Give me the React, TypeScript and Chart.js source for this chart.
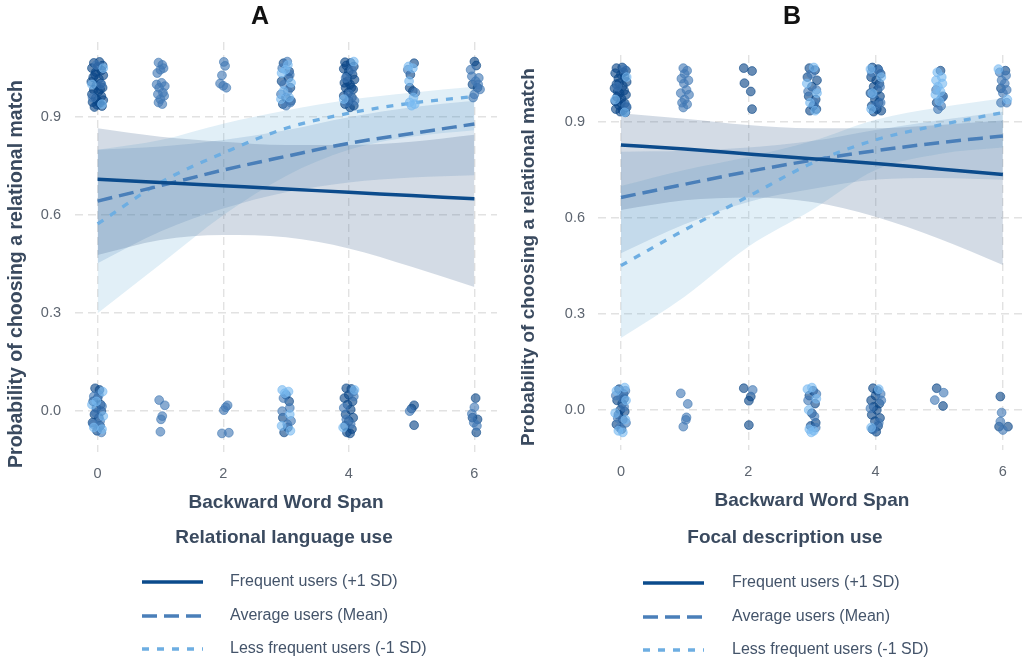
import React, { useEffect, useRef } from "react";
import { Chart, registerables } from "chart.js";

Chart.register(...registerables);

type Pt = [number, number];

// ---------- shared categories / labels ----------
const xGrid = [0, 1, 2, 3, 4, 5, 6];
const xTicks = [0, 2, 4, 6];
const yTicks = [0, 0.3, 0.6, 0.9];
const seriesNames = ["Frequent users (+1 SD)", "Average users (Mean)", "Less frequent users (-1 SD)"];
const xTitle = "Backward Word Span";
const yTitle = "Probability of choosing a relational match";

// ---------- panel A : Relational language use ----------
const A_freqFit = [0.71, 0.7, 0.69, 0.68, 0.67, 0.66, 0.65];
const A_freqLo = [0.478, 0.524, 0.539, 0.532, 0.498, 0.442, 0.38];
const A_freqHi = [0.866, 0.84, 0.825, 0.815, 0.815, 0.825, 0.846];
const A_avgFit = [0.643, 0.69, 0.738, 0.78, 0.82, 0.85, 0.879];
const A_avgLo = [0.453, 0.55, 0.62, 0.67, 0.7, 0.715, 0.722];
const A_avgHi = [0.8, 0.81, 0.83, 0.86, 0.9, 0.93, 0.95];
const A_lessFit = [0.573, 0.7, 0.79, 0.866, 0.912, 0.943, 0.963];
const A_lessLo = [0.3, 0.45, 0.6, 0.72, 0.8, 0.84, 0.86];
const A_lessHi = [0.8, 0.83, 0.88, 0.92, 0.953, 0.975, 0.993];

const A_ptsDark: Pt[] = [
  [-0.06, 1.066], [0.03, 1.069], [0.08, 1.058], [-0.09, 1.05], [0.0, 1.054], [0.06, 1.043], [-0.03, 1.038], [0.09, 1.028],
  [-0.07, 1.022], [0.02, 1.017], [-0.1, 1.008], [0.05, 1.003], [-0.02, 0.997], [0.08, 0.99], [-0.06, 0.984], [0.01, 0.977],
  [-0.09, 0.97], [0.06, 0.964], [-0.03, 0.958], [0.09, 0.952], [-0.08, 0.946], [0.03, 0.943], [-0.01, 0.938], [0.07, 0.934],
  [-0.05, 0.931], [0.04, 0.985], [-0.04, 1.03], [0.0, 0.95],
  [2.96, 1.065], [3.05, 1.04], [2.93, 1.01], [3.07, 0.99], [3.0, 0.96], [2.95, 0.94], [3.04, 1.02], [3.08, 0.95],
  [3.94, 1.068], [4.03, 1.066], [4.08, 1.055], [3.92, 1.048], [4.0, 1.04], [4.06, 1.03], [3.97, 1.025], [4.09, 1.015],
  [3.93, 1.005], [4.02, 1.0], [3.95, 0.99], [4.07, 0.985], [3.99, 0.975], [3.92, 0.965], [4.05, 0.96], [4.0, 0.95],
  [3.94, 0.94], [4.08, 0.935], [4.02, 0.93], [3.96, 1.058], [4.04, 0.99], [3.98, 1.01],
  [5.04, 1.065], [4.98, 1.03], [4.97, 0.99], [5.02, 0.98],
  [6.0, 1.07], [6.03, 1.058], [5.97, 1.0], [6.05, 0.99],
  [-0.04, 0.07], [0.03, 0.065], [0.0, 0.04], [-0.07, 0.03], [0.05, 0.02], [-0.02, 0.01], [0.06, 0.0], [-0.05, -0.01],
  [0.02, -0.02], [-0.08, -0.035], [0.04, -0.045], [-0.01, -0.06],
  [3.0, 0.05], [3.05, 0.03], [2.95, -0.02], [3.03, -0.05], [2.97, -0.065],
  [3.96, 0.07], [4.04, 0.068], [4.0, 0.05], [3.93, 0.04], [4.06, 0.03], [3.98, 0.02], [4.03, 0.005], [3.95, -0.01],
  [4.07, -0.02], [4.0, -0.03], [3.94, -0.045], [4.05, -0.055], [3.97, -0.065], [4.02, -0.068],
  [5.04, 0.018], [5.0, 0.008], [5.04, -0.043],
  [6.02, 0.04], [5.97, -0.02], [6.05, -0.025], [6.03, -0.065],
];
const A_ptsMid: Pt[] = [
  [-0.02, 1.06], [0.06, 1.0], [-0.08, 0.96],
  [0.97, 1.067], [1.03, 1.06], [1.05, 1.05], [0.95, 1.035], [1.0, 1.045], [0.94, 1.0], [1.02, 1.005], [1.07, 0.995],
  [0.98, 0.99], [1.04, 0.975], [0.96, 0.97], [1.06, 0.965], [1.0, 0.955], [0.97, 0.945], [1.03, 0.94],
  [2.01, 1.069], [2.03, 1.057], [1.98, 1.028], [1.95, 1.003], [2.0, 0.996], [2.05, 0.99],
  [3.02, 1.07], [2.94, 1.05], [3.06, 1.03], [2.97, 1.0], [3.03, 0.98], [2.92, 0.97], [3.07, 0.945], [3.0, 0.935],
  [4.05, 1.045], [3.95, 1.02], [4.01, 0.97], [3.97, 0.945], [4.09, 0.95],
  [5.94, 1.045], [6.07, 1.02], [6.02, 1.01], [5.96, 1.025], [6.09, 0.985], [6.0, 0.97], [5.98, 0.96], [6.06, 1.0],
  [4.94, 1.045], [5.06, 0.975],
  [0.02, 0.05], [-0.06, 0.045], [0.07, 0.015], [-0.03, -0.005], [0.04, -0.03], [-0.07, -0.04], [0.01, -0.05], [0.06, -0.065],
  [0.98, 0.034], [1.07, 0.018], [1.01, -0.025], [1.03, -0.015], [1.0, -0.063],
  [2.01, 0.003], [2.07, 0.018], [1.98, -0.068], [2.09, -0.066], [2.04, 0.012],
  [2.96, 0.04], [3.06, 0.01], [2.94, 0.0], [3.08, -0.03], [3.02, -0.04],
  [4.08, 0.045], [3.92, 0.01], [4.03, -0.04], [3.96, -0.025], [4.07, 0.06],
  [6.0, 0.012], [5.96, -0.008], [6.04, -0.045], [5.99, -0.035],
  [4.97, 0.0],
];
const A_ptsLight: Pt[] = [
  [0.09, 1.05], [-0.09, 1.0], [0.07, 0.94],
  [3.03, 1.06], [2.93, 1.035], [3.08, 1.005], [2.96, 0.98], [3.05, 0.96], [2.99, 1.045], [2.92, 0.955],
  [4.08, 1.07], [3.92, 0.955],
  [4.95, 1.055], [5.02, 1.05], [4.96, 1.01], [5.03, 0.96], [4.97, 0.945], [5.0, 0.935], [5.05, 0.94],
  [0.08, 0.06], [-0.09, 0.02], [0.09, -0.015], [-0.06, -0.05], [0.07, -0.055], [-0.02, 0.03],
  [2.94, 0.065], [3.04, 0.06], [2.98, 0.055], [3.06, -0.01], [2.93, -0.045], [3.07, -0.06],
  [4.09, 0.065], [3.91, -0.05],
];

// ---------- panel B : Focal description use ----------
const B_freqFit = [0.828, 0.815, 0.8, 0.785, 0.77, 0.753, 0.736];
const B_freqLo = [0.625, 0.655, 0.664, 0.65, 0.604, 0.535, 0.453];
const B_freqHi = [0.927, 0.91, 0.89, 0.88, 0.88, 0.89, 0.904];
const B_avgFit = [0.664, 0.705, 0.745, 0.78, 0.81, 0.835, 0.856];
const B_avgLo = [0.49, 0.58, 0.65, 0.69, 0.72, 0.725, 0.719];
const B_avgHi = [0.807, 0.81, 0.82, 0.84, 0.875, 0.905, 0.932];
const B_lessFit = [0.451, 0.5625, 0.667, 0.771, 0.844, 0.89, 0.929];
const B_lessLo = [0.225, 0.354, 0.51, 0.625, 0.75, 0.8, 0.82];
const B_lessHi = [0.7, 0.75, 0.79, 0.84, 0.907, 0.945, 0.974];

const B_ptsDark: Pt[] = [
  [-0.07, 1.068], [0.02, 1.07], [0.08, 1.06], [-0.09, 1.052], [0.0, 1.048], [0.06, 1.04], [-0.04, 1.035], [0.09, 1.025],
  [-0.07, 1.018], [0.03, 1.012], [-0.1, 1.005], [0.05, 0.998], [-0.02, 0.99], [0.08, 0.985], [-0.06, 0.978], [0.01, 0.972],
  [-0.09, 0.965], [0.06, 0.958], [-0.03, 0.952], [0.09, 0.946], [-0.08, 0.94], [0.03, 0.936], [-0.01, 0.932], [0.07, 0.93],
  [-0.05, 0.995], [0.04, 1.055], [-0.03, 1.02], [0.0, 0.96],
  [1.93, 1.068], [2.06, 1.059], [1.94, 1.021], [2.04, 0.995], [2.06, 0.94],
  [2.96, 1.068], [3.05, 1.062], [2.93, 1.04], [3.08, 1.03], [3.0, 1.01], [2.95, 0.98], [3.06, 0.97], [3.02, 0.95],
  [2.97, 0.935], [3.07, 0.94],
  [3.95, 1.07], [4.04, 1.065], [4.08, 1.05], [3.93, 1.04], [4.01, 1.03], [4.06, 1.02], [3.97, 1.01], [4.03, 1.0],
  [3.92, 0.99], [4.07, 0.98], [3.99, 0.97], [4.05, 0.96], [3.94, 0.95], [4.02, 0.94], [3.97, 0.932], [4.09, 0.935],
  [5.02, 1.06], [5.06, 0.98], [4.96, 0.96],
  [6.04, 1.06], [5.97, 1.005],
  [-0.03, 0.065], [0.04, 0.05], [-0.06, 0.03], [0.02, 0.02], [-0.01, 0.0], [0.06, -0.005], [-0.04, -0.015], [0.03, -0.03],
  [-0.07, -0.045], [0.01, -0.06], [0.05, 0.035],
  [1.93, 0.068], [2.04, 0.042], [2.01, 0.029], [2.01, -0.047],
  [3.02, 0.06], [2.96, 0.045], [3.05, 0.02], [3.0, -0.01], [3.06, -0.04], [2.98, -0.05],
  [3.96, 0.068], [4.03, 0.06], [4.0, 0.045], [3.93, 0.03], [4.06, 0.02], [3.97, 0.01], [4.02, 0.0], [3.94, -0.015],
  [4.07, -0.025], [3.99, -0.035], [4.04, -0.05], [3.95, -0.06], [4.01, -0.068],
  [4.96, 0.068], [5.06, 0.0125],
  [5.96, 0.042], [5.94, -0.052], [6.08, -0.052],
];
const B_ptsMid: Pt[] = [
  [0.05, 1.065], [-0.06, 1.01], [0.08, 0.95],
  [0.98, 1.068], [1.04, 1.06], [1.0, 1.05], [0.95, 1.035], [1.06, 1.03], [0.99, 1.02], [1.03, 1.0], [0.94, 0.99],
  [1.07, 0.985], [1.0, 0.97], [0.96, 0.96], [1.04, 0.955], [0.98, 0.945],
  [2.99, 1.05], [3.07, 1.0], [2.94, 0.995], [3.04, 0.96],
  [4.05, 1.06], [3.94, 1.055], [4.07, 1.01], [3.96, 0.985], [4.0, 0.95], [4.08, 0.96],
  [4.95, 1.0], [5.04, 0.975], [5.03, 0.95], [4.98, 0.94],
  [5.95, 1.055], [6.05, 1.045], [5.98, 1.03], [6.03, 1.02], [6.06, 1.0], [6.0, 0.99], [5.97, 0.96], [6.06, 0.96],
  [0.07, 0.06], [-0.08, 0.045], [0.05, 0.01], [-0.05, -0.025], [0.08, -0.04], [-0.02, -0.055], [0.0, 0.04],
  [0.94, 0.052], [1.05, 0.019], [1.03, -0.023], [1.02, -0.031], [0.98, -0.052],
  [2.07, 0.0625],
  [3.07, 0.05], [2.94, 0.03], [3.04, -0.02], [3.06, -0.055],
  [4.08, 0.05], [3.92, 0.005], [4.05, -0.04], [3.97, -0.06], [4.09, 0.03],
  [5.07, 0.054], [4.93, 0.031],
  [5.98, -0.008], [5.96, -0.036], [6.0, -0.0625],
];
const B_ptsLight: Pt[] = [
  [0.09, 1.04], [-0.09, 0.97], [0.06, 0.93],
  [3.03, 1.07], [2.92, 1.02], [3.08, 0.99], [2.97, 0.96], [3.05, 0.935],
  [3.92, 1.065], [4.09, 1.04], [3.95, 0.99], [3.93, 0.94],
  [4.97, 1.055], [5.04, 1.04], [4.95, 1.03], [5.05, 1.02], [4.98, 1.01], [5.02, 0.995], [4.94, 0.985], [5.0, 0.965],
  [5.93, 1.065], [6.07, 0.97],
  [0.06, 0.07], [-0.07, 0.06], [0.08, 0.03], [-0.09, -0.01], [0.07, -0.03], [-0.04, -0.065], [0.03, -0.07],
  [3.0, 0.07], [2.93, 0.065], [3.07, 0.035], [2.95, 0.0], [2.96, -0.06], [2.99, -0.07], [3.03, -0.065],
  [4.05, 0.065], [3.93, -0.055],
];

// ---------- styles ----------
const FONT = "'Liberation Sans', Arial, Helvetica, sans-serif";
const lineColors = ["#0b4b8c", "#4a7fb9", "#6eaee2"];
const lineDashes: number[][] = [[], [15, 7], [7, 8]];
const lineWidths = [3.5, 3.5, 3.3];
const ribbonColors = ["rgba(80,110,150,0.25)", "rgba(63,120,180,0.18)", "rgba(107,174,214,0.2)"];
const pointFill = ["rgba(10,70,135,0.62)", "rgba(65,120,180,0.62)", "rgba(120,185,240,0.62)"];
const pointEdge = ["rgba(10,70,135,0.75)", "rgba(65,120,180,0.75)", "rgba(120,185,240,0.75)"];
const titleColor = "#3a4a5f";
const tickColor = "#5d6570";
const legendTextColor = "#44546a";

interface PanelData {
  title: string;
  legendTitle: string;
  fits: number[][];
  los: number[][];
  his: number[][];
  pts: Pt[][];
}

const panelA: PanelData = {
  title: "A",
  legendTitle: "Relational language use",
  fits: [A_freqFit, A_avgFit, A_lessFit],
  los: [A_freqLo, A_avgLo, A_lessLo],
  his: [A_freqHi, A_avgHi, A_lessHi],
  pts: [A_ptsDark, A_ptsMid, A_ptsLight],
};
const panelB: PanelData = {
  title: "B",
  legendTitle: "Focal description use",
  fits: [B_freqFit, B_avgFit, B_lessFit],
  los: [B_freqLo, B_avgLo, B_lessLo],
  his: [B_freqHi, B_avgHi, B_lessHi],
  pts: [B_ptsDark, B_ptsMid, B_ptsLight],
};

const layoutA = {
  canvasLeft: 0, width: 515, left: 75, right: 497, top: 42, bottom: 452, axisBottom: 514.4,
  xTickPad: 13, yTickPad: 14, yMin: -0.125, yMax: 1.13,
  titleX: 260, titleY: 17, yTitleX: 17, yTitleY: 274, yTitleSize: 19.5,
  legTitleX: 284, legTitleY: 538, legLineX0: 142, legLineX1: 203, legTextX: 230, legY: [582, 616, 649],
};
const layoutB = {
  canvasLeft: 515, width: 516, left: 83, right: 513, top: 55, bottom: 450, axisBottom: 512.1,
  xTickPad: 13, yTickPad: 13, yMin: -0.125, yMax: 1.109,
  titleX: 277, titleY: 17, yTitleX: 14, yTitleY: 257, yTitleSize: 19,
  legTitleX: 270, legTitleY: 538, legLineX0: 128, legLineX1: 189, legTextX: 217, legY: [583, 617, 650],
};
type Layout = typeof layoutA;
const H = 661;

function makeChart(canvas: HTMLCanvasElement, p: PanelData, L: Layout) {
  const datasets: any[] = [];
  // confidence ribbons
  for (let g = 0; g < 3; g++) {
    datasets.push({
      type: "line",
      data: xGrid.map((x, i) => ({ x, y: p.his[g][i] })),
      borderWidth: 0,
      pointRadius: 0,
      fill: false,
      cubicInterpolationMode: "monotone",
      order: 3,
    });
    datasets.push({
      type: "line",
      data: xGrid.map((x, i) => ({ x, y: p.los[g][i] })),
      borderWidth: 0,
      pointRadius: 0,
      fill: "-1",
      backgroundColor: ribbonColors[g],
      cubicInterpolationMode: "monotone",
      order: 3,
    });
  }
  // fitted lines
  for (let g = 0; g < 3; g++) {
    datasets.push({
      type: "line",
      label: seriesNames[g],
      data: xGrid.map((x, i) => ({ x, y: p.fits[g][i] })),
      borderColor: lineColors[g],
      borderWidth: lineWidths[g],
      borderDash: lineDashes[g],
      borderCapStyle: "butt",
      pointRadius: 0,
      fill: false,
      cubicInterpolationMode: "monotone",
      order: 2,
    });
  }
  // jittered raw responses
  for (let g = 2; g >= 0; g--) {
    datasets.push({
      type: "line",
      showLine: false,
      data: p.pts[g].map(([x, y]) => ({ x, y })),
      pointRadius: 4.4,
      pointBackgroundColor: pointFill[g],
      pointBorderColor: pointEdge[g],
      pointBorderWidth: 0.8,
      order: 1,
    });
  }

  const annot = {
    id: "panelText",
    afterDraw(chart: any) {
      const ctx = chart.ctx as CanvasRenderingContext2D;
      ctx.save();
      // panel title
      ctx.fillStyle = "#111111";
      ctx.font = `bold 25px ${FONT}`;
      ctx.textAlign = "center";
      ctx.textBaseline = "middle";
      ctx.fillText(p.title, L.titleX, L.titleY);
      // y axis title
      ctx.save();
      ctx.translate(L.yTitleX, L.yTitleY);
      ctx.rotate(-Math.PI / 2);
      ctx.fillStyle = titleColor;
      ctx.font = `bold ${L.yTitleSize}px ${FONT}`;
      ctx.fillText(yTitle, 0, 0);
      ctx.restore();
      // legend title
      ctx.fillStyle = titleColor;
      ctx.font = `bold 19px ${FONT}`;
      ctx.fillText(p.legendTitle, L.legTitleX, L.legTitleY);
      // legend keys
      ctx.textAlign = "left";
      ctx.font = `16px ${FONT}`;
      for (let g = 0; g < 3; g++) {
        const y = L.legY[g];
        ctx.save();
        ctx.strokeStyle = lineColors[g];
        ctx.lineWidth = lineWidths[g];
        ctx.setLineDash(lineDashes[g]);
        ctx.lineCap = "butt";
        ctx.beginPath();
        ctx.moveTo(L.legLineX0, y);
        ctx.lineTo(L.legLineX1, y);
        ctx.stroke();
        ctx.restore();
        ctx.fillStyle = legendTextColor;
        ctx.fillText(seriesNames[g], L.legTextX, y);
      }
      ctx.restore();
    },
  };

  const gridStyle = { color: "#e2e2e2", lineWidth: 1.4, drawTicks: false };
  const borderStyle = { display: false, dash: [8, 5] };

  return new Chart(canvas, {
    type: "line",
    data: { datasets },
    plugins: [annot],
    options: {
      responsive: false,
      animation: false,
      events: [],
      layout: { padding: { top: L.top, right: L.width - L.right, bottom: H - L.axisBottom, left: 0 } },
      plugins: { legend: { display: false }, tooltip: { enabled: false }, title: { display: false } },
      scales: {
        x: {
          type: "linear",
          min: -0.36,
          max: 6.36,
          afterBuildTicks: (s: any) => {
            s.ticks = xTicks.map((v) => ({ value: v }));
          },
          afterFit: (s: any) => {
            s.height = L.axisBottom - L.bottom;
          },
          grid: gridStyle,
          border: borderStyle,
          ticks: {
            padding: L.xTickPad,
            color: tickColor,
            font: { family: FONT, size: 14.5 },
            callback: (v: any) => String(v),
          },
          title: {
            display: true,
            text: xTitle,
            color: titleColor,
            font: { family: FONT, size: 19, weight: "bold" },
            padding: 0,
          },
        },
        y: {
          type: "linear",
          min: L.yMin,
          max: L.yMax,
          afterBuildTicks: (s: any) => {
            s.ticks = yTicks.map((v) => ({ value: v }));
          },
          afterFit: (s: any) => {
            s.width = L.left;
          },
          grid: gridStyle,
          border: borderStyle,
          ticks: {
            padding: L.yTickPad,
            color: tickColor,
            font: { family: FONT, size: 14.5 },
            callback: (v: any) => Number(v).toFixed(1),
          },
        },
      },
    } as any,
  });
}

function Panel({ p, L }: { p: PanelData; L: Layout }) {
  const ref = useRef<HTMLCanvasElement | null>(null);
  useEffect(() => {
    if (!ref.current) return;
    const chart = makeChart(ref.current, p, L);
    return () => chart.destroy();
  }, [p, L]);
  return (
    <canvas
      ref={ref}
      width={L.width}
      height={H}
      style={{ position: "absolute", left: L.canvasLeft, top: 0, width: L.width, height: H, display: "block" }}
    />
  );
}

export default function App() {
  return (
    <div
      style={{
        position: "fixed",
        left: 0,
        top: 0,
        width: 1031,
        height: H,
        background: "#ffffff",
        overflow: "hidden",
      }}
    >
      <Panel p={panelA} L={layoutA} />
      <Panel p={panelB} L={layoutB} />
    </div>
  );
}
